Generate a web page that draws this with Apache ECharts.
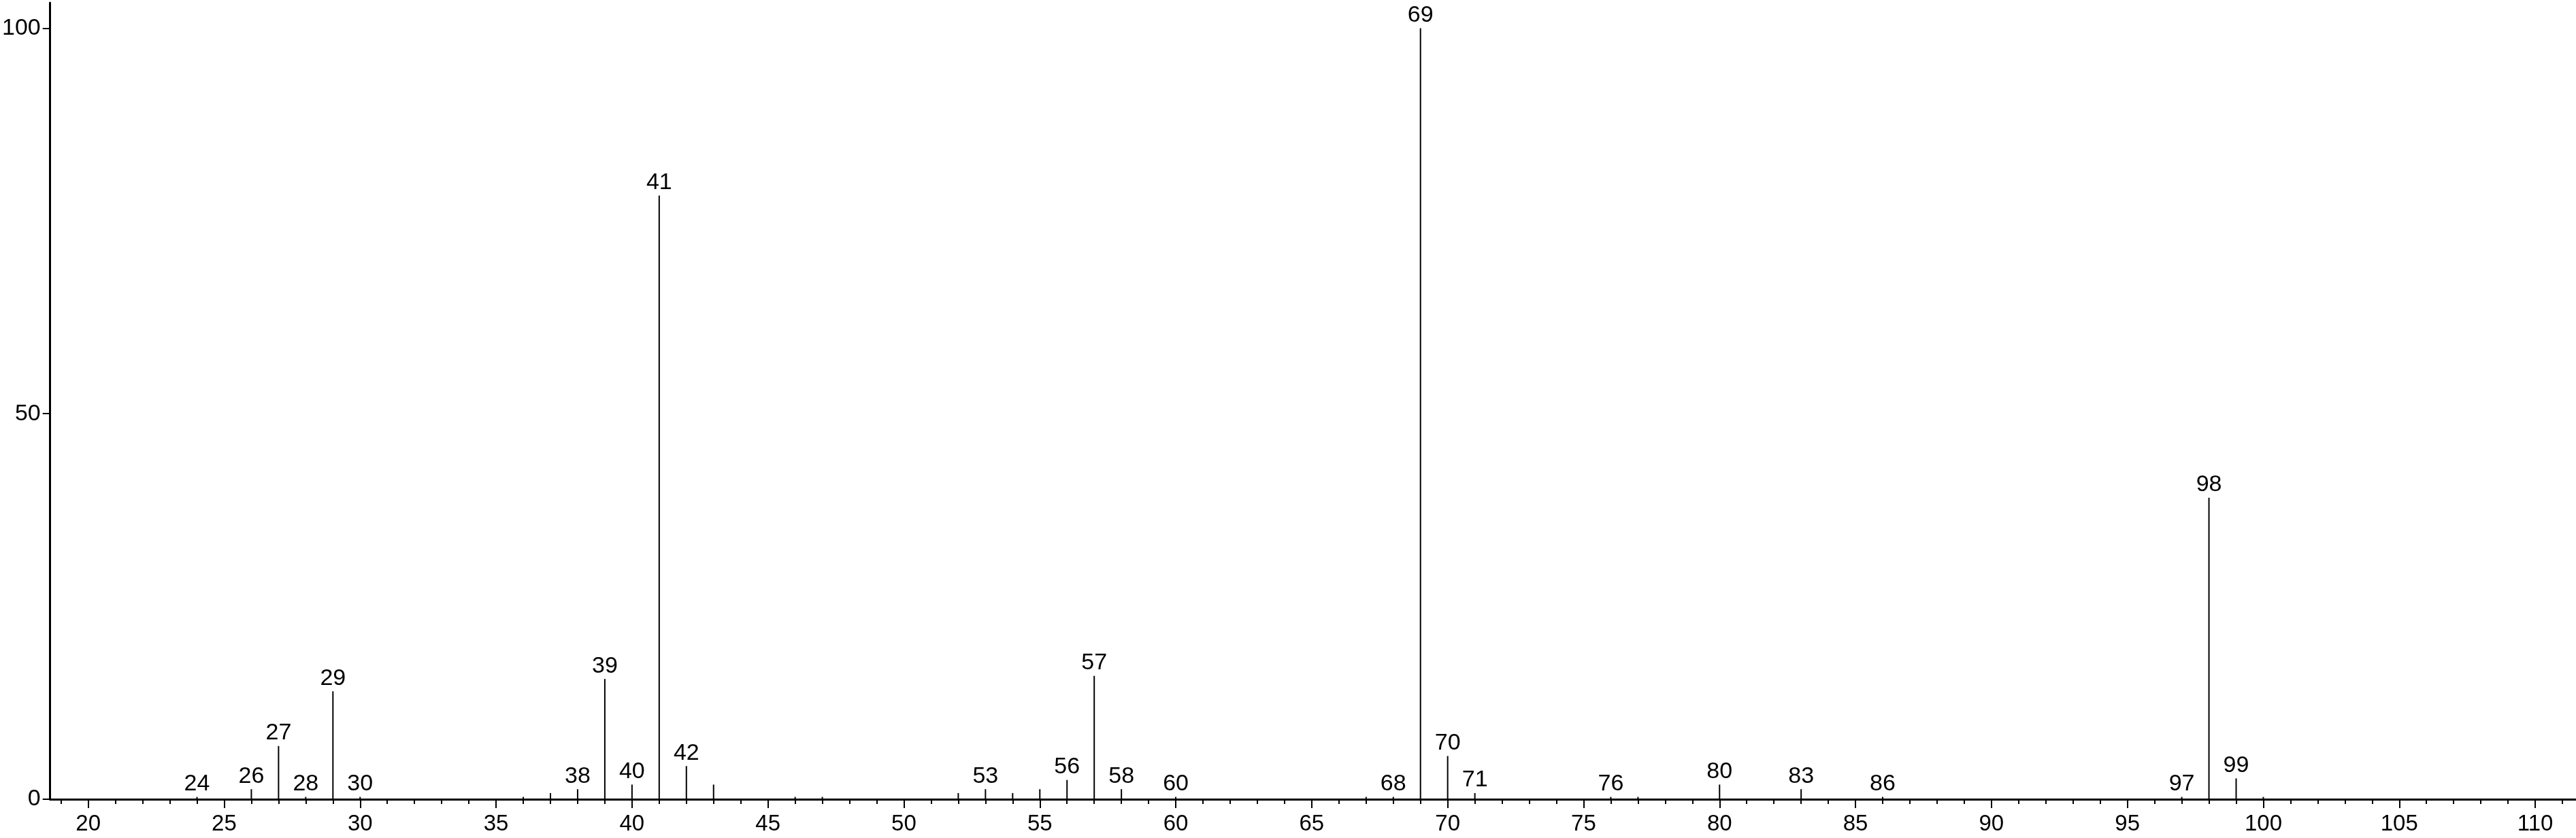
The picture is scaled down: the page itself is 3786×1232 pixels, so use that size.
<!DOCTYPE html>
<html>
<head>
<meta charset="utf-8">
<script src="https://cdn.jsdelivr.net/npm/echarts@6/dist/echarts.min.js"></script>
<style>
html,body{margin:0;padding:0;background:#fff;}
#chart{width:3786px;height:1232px;}
</style>
</head>
<body>
<div id="chart"></div>
<script>
// m/z values of the peaks
const peakMz = [24,26,27,28,29,30,36,37,38,39,40,41,42,43,46,47,52,53,54,55,56,57,58,60,67,68,69,70,71,76,77,80,83,86,97,98,99,100];
// relative intensities (%)
const peakIntensity = [0.3,1.3,6.9,0.3,14.0,0.3,0.3,0.8,1.3,15.6,1.9,78.3,4.3,1.9,0.3,0.3,0.8,1.3,0.8,1.3,2.5,16.0,1.3,0.3,0.3,0.3,100,5.6,0.8,0.3,0.3,1.9,1.3,0.3,0.3,39.1,2.7,0.3];
// peaks that carry an m/z label
const labeledMz = [24,26,27,28,29,30,38,39,40,41,42,53,56,57,58,60,68,69,70,71,76,80,83,86,97,98,99];
// axis tick labels
const xTickLabels = [20,25,30,35,40,45,50,55,60,65,70,75,80,85,90,95,100,105,110];
const yTickLabels = [0,50,100];

const xMin = 18.6, xMax = 111.5;
const minorTicks = [];
for (let v = Math.ceil(xMin); v <= Math.floor(xMax); v++) minorTicks.push(v);

const FONT = '"Liberation Sans", Arial, Helvetica, sans-serif';

const data = peakMz.map((m, i) => ({
  value: [m, peakIntensity[i]],
  label: { show: labeledMz.indexOf(m) >= 0 }
}));

const chart = echarts.init(document.getElementById('chart'), null, {renderer: 'canvas'});
chart.setOption({
  animation: false,
  backgroundColor: '#ffffff',
  grid: { left: 69, right: 0, top: 4, bottom: 57, containLabel: false },
  xAxis: [
    {
      type: 'value', min: xMin, max: xMax,
      axisLine: { show: true, onZero: true, lineStyle: { color: '#000', width: 3 } },
      axisTick: { show: true, customValues: xTickLabels, length: 13, lineStyle: { color: '#000', width: 2 } },
      axisLabel: { show: true, customValues: xTickLabels, margin: 20, color: '#000', fontSize: 33, fontFamily: FONT,
                   showMinLabel: true, showMaxLabel: true },
      splitLine: { show: false }
    },
    {
      type: 'value', min: xMin, max: xMax, position: 'bottom',
      axisLine: { show: false },
      axisTick: { show: true, customValues: minorTicks, length: 7, lineStyle: { color: '#000', width: 2 } },
      axisLabel: { show: false },
      splitLine: { show: false }
    }
  ],
  yAxis: {
    type: 'value', min: 0, max: 103.3,
    axisLine: { show: true, lineStyle: { color: '#000', width: 3 } },
    axisTick: { show: true, customValues: yTickLabels, length: 11, lineStyle: { color: '#000', width: 2 } },
    axisLabel: { show: true, customValues: yTickLabels, margin: 14, color: '#000', fontSize: 34, fontFamily: FONT },
    splitLine: { show: false }
  },
  series: [{
    type: 'bar',
    xAxisIndex: 0,
    barWidth: 2,
    itemStyle: { color: '#000' },
    label: {
      position: 'top', distance: 2, color: '#000', fontSize: 34, fontFamily: FONT,
      formatter: p => String(p.value[0])
    },
    data: data
  }]
});
</script>
</body>
</html>
